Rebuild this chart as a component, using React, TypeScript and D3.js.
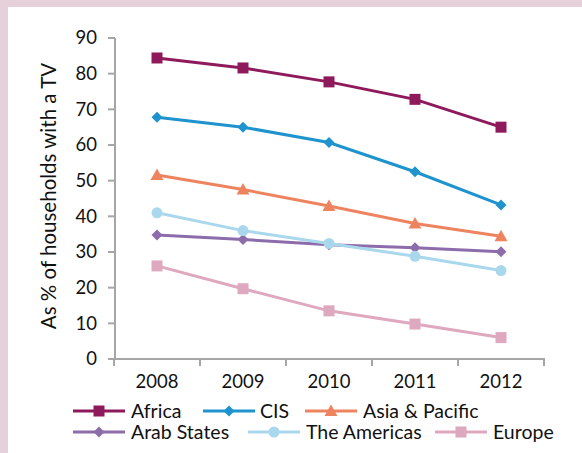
import React from "react";
import * as d3 from "d3";

const years = ["2008", "2009", "2010", "2011", "2012"];
const africa = [84.4, 81.6, 77.7, 72.8, 65.0];
const cis = [67.8, 65.0, 60.7, 52.5, 43.2];
const asiaPacific = [51.6, 47.5, 42.9, 38.0, 34.4];
const arabStates = [34.8, 33.5, 32.0, 31.2, 30.1];
const americas = [41.0, 36.0, 32.4, 28.8, 24.8];
const europe = [26.1, 19.7, 13.5, 9.8, 6.0];
const yTicks = [0, 10, 20, 30, 40, 50, 60, 70, 80, 90];

type Shape = "square" | "diamond" | "triangle" | "circle";
const series: { name: string; values: number[]; color: string; shape: Shape }[] = [
  { name: "Africa", values: africa, color: "#8e1a5c", shape: "square" },
  { name: "CIS", values: cis, color: "#1f93cd", shape: "diamond" },
  { name: "Asia & Pacific", values: asiaPacific, color: "#ee845f", shape: "triangle" },
  { name: "Arab States", values: arabStates, color: "#8c6cab", shape: "diamond" },
  { name: "The Americas", values: americas, color: "#a9d8ec", shape: "circle" },
  { name: "Europe", values: europe, color: "#dea8bf", shape: "square" },
];

const FONT = "Lato, 'Open Sans', sans-serif";

function marker(shape: Shape, x: number, y: number, color: string, key: string) {
  if (shape === "square") {
    return <rect key={key} x={x - 5.5} y={y - 5.5} width={11} height={11} fill={color} />;
  }
  if (shape === "diamond") {
    const r = 5.5;
    return <path key={key} d={`M${x},${y - r}L${x + r},${y}L${x},${y + r}L${x - r},${y}Z`} fill={color} />;
  }
  if (shape === "triangle") {
    return <path key={key} d={`M${x},${y - 6.5}L${x + 6.5},${y + 5}L${x - 6.5},${y + 5}Z`} fill={color} />;
  }
  return <circle key={key} cx={x} cy={y} r={5.5} fill={color} />;
}

export default function App() {
  const W = 582, H = 453;
  const x = d3.scaleBand<string>().domain(years).range([114, 544]);
  const y = d3.scaleLinear().domain([0, 90]).range([359, 38]);
  const cx = (d: string) => (x(d) as number) + x.bandwidth() / 2;
  const line = d3.line<number>().x((_, i) => cx(years[i])).y((v) => y(v));
  const axisColor = "#a6a6a6";

  const legendItems = [
    { s: series[0], lx: 73, tx: 131, ly: 411 },
    { s: series[1], lx: 203, tx: 260, ly: 411 },
    { s: series[2], lx: 305, tx: 363, ly: 411 },
    { s: series[3], lx: 73, tx: 131, ly: 432 },
    { s: series[4], lx: 248, tx: 306, ly: 432 },
    { s: series[5], lx: 435, tx: 493, ly: 432 },
  ];

  return (
    <svg
      width={W}
      height={H}
      style={{ position: "absolute", left: 0, top: 0, display: "block" }}
      fontFamily={FONT}
    >
      <rect x={0} y={0} width={W} height={H} fill="#ffffff" />
      <rect x={0} y={0} width={W} height={7} fill="#e6d1da" />
      <rect x={0} y={0} width={8} height={H} fill="#e6d1da" />

      {/* y axis */}
      <line x1={115} x2={115} y1={y(90)} y2={y(0)} stroke={axisColor} strokeWidth={2} />
      {yTicks.map((t) => (
        <g key={t}>
          <line x1={108} x2={115} y1={y(t)} y2={y(t)} stroke={axisColor} strokeWidth={2} />
          <text x={97} y={y(t)} dy="0.35em" textAnchor="end" fontSize={18.5} fill="#111">
            {t}
          </text>
        </g>
      ))}
      <text
        transform={`translate(56,196) rotate(-90)`}
        textAnchor="middle"
        fontSize={20.5}
        fill="#111"
      >
        As % of households with a TV
      </text>

      {/* x axis */}
      <line x1={114} x2={545} y1={y(0)} y2={y(0)} stroke={axisColor} strokeWidth={2} />
      {[...years.map((d) => x(d) as number), 544].map((p, i) => (
        <line key={i} x1={p} x2={p} y1={y(0)} y2={y(0) + 7} stroke={axisColor} strokeWidth={2} />
      ))}
      {years.map((d) => (
        <text key={d} x={cx(d)} y={388} textAnchor="middle" fontSize={18.5} fill="#111">
          {d}
        </text>
      ))}

      {/* series */}
      {series.map((s) => (
        <g key={s.name}>
          <path d={line(s.values) as string} fill="none" stroke={s.color} strokeWidth={3} />
          {s.values.map((v, i) => marker(s.shape, cx(years[i]), y(v), s.color, s.name + i))}
        </g>
      ))}

      {/* legend */}
      {legendItems.map(({ s, lx, tx, ly }) => (
        <g key={s.name}>
          <line x1={lx} x2={lx + 52} y1={ly} y2={ly} stroke={s.color} strokeWidth={3} />
          {marker(s.shape, lx + 26, ly, s.color, "lg" + s.name)}
          <text x={tx} y={ly} dy="0.35em" fontSize={19.5} fill="#111">
            {s.name}
          </text>
        </g>
      ))}
    </svg>
  );
}
